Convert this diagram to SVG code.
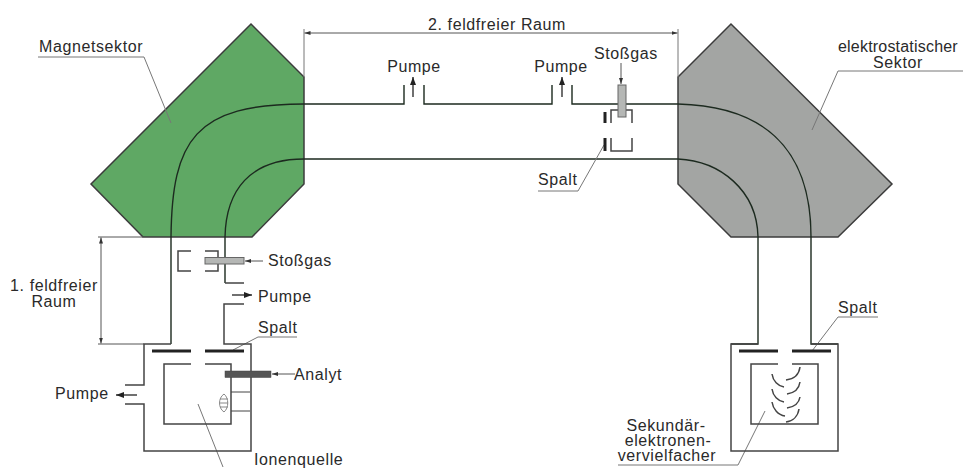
<svg xmlns="http://www.w3.org/2000/svg" width="963" height="468" viewBox="0 0 963 468">
<defs>
<marker id="ah" markerUnits="userSpaceOnUse" markerWidth="9" markerHeight="7" refX="8" refY="3.5" orient="auto"><path d="M0,0.5 L8,3.5 L0,6.5 Z" fill="#222"/></marker>
<marker id="ahs" markerUnits="userSpaceOnUse" markerWidth="7" markerHeight="5" refX="6" refY="2.5" orient="auto-start-reverse"><path d="M0,0.5 L6,2.5 L0,4.5 Z" fill="#333"/></marker>
</defs>
<style>
text{font-family:"Liberation Sans",Arial,sans-serif;font-size:16px;letter-spacing:.6px;fill:#2a2a2a}
.w{fill:none;stroke:#444;stroke-width:1.5}
.b{fill:none;stroke:#1c2a1f;stroke-width:1.4}
.s{fill:none;stroke:#222;stroke-width:3}
.l{fill:none;stroke:#777;stroke-width:1}
.d{fill:none;stroke:#555;stroke-width:1}
.a{fill:none;stroke:#222;stroke-width:1.3;marker-end:url(#ah)}
.t{fill:none;stroke:#555;stroke-width:1;marker-end:url(#ahs)}
.sec{stroke:#3c3c3c;stroke-width:1.5}
.tube{fill:#b5b7b5;stroke:#666;stroke-width:1}
</style>
<rect width="963" height="468" fill="#fff"/>
<g id="magnetsektor"><polygon class="sec" fill="#5fa864" points="251,24 304,77 304,184 252,237 143,237 91,184"/></g>
<g id="elektrostatischer-sektor"><polygon class="sec" fill="#a3a5a3" points="731,24 678,77 678,184 731,237 838,237 892,184"/></g>
<g id="connectors">
<path class="b" d="M171,344 V237 C172,140 195,104 304,104 H404 V85"/>
<path class="b" d="M424,85 V104 H552 V85"/>
<path class="b" d="M572,85 V104 H678 C760,106 811,145 811,237 V344 H838"/>
<path class="b" d="M225,283 V237 C226,190 250,159 304,159 H678 C720,161 757,190 758,237 V344 H731"/>
<path class="d" d="M98,237 H143 M98,344 H144"/>
<path class="d" d="M101,237.500 V343.500" marker-start="url(#ahs)" marker-end="url(#ahs)"/>
<path class="l" d="M304,77 V29 M678,77 V29"/>
<path class="d" d="M304.500,33 H677.500" marker-start="url(#ahs)" marker-end="url(#ahs)"/>
<path class="a" d="M413,97 V77"/><path class="a" d="M562,97 V77"/>
<path class="t" d="M621,63 V84"/>
<path class="t" d="M263,261 H245"/><path class="a" d="M232,295 H252"/>
<path class="t" d="M295,374 H272"/><path class="a" d="M137,395 H116"/>
<path class="l" d="M38,57 H144 L171,123"/>
<path class="l" d="M963,71 H838 L812,130"/>
<path class="l" d="M297,337 H258 L233,350"/>
<path class="l" d="M538,191 H578 L604,145"/>
<path class="l" d="M878,317 H838 L812,351"/>
<path class="l" d="M618,465 H738 L765,411"/>
<path class="l" d="M198,404 L223,467"/>
</g>
<g id="ionenquelle">
<path class="w" d="M171,344 H144 V385 H125 M125,404 H144 V451 H251 V344 H224 V304 H244 M225,283 H244"/>
<path class="s" d="M152,351 H191 M205,351 H244"/>
<path class="w" d="M191,364 H164 V424 H231 V364 H205"/>
<path class="w" style="stroke-width:1" d="M231,392 H250 M231,411 H250"/>
<path d="M224,394 C218,398 218,408 224,412 C229,408 229,398 224,394 Z M220,399 H228 M220,403 H228 M220,407 H228" fill="none" stroke="#888" stroke-width="1"/>
<rect x="225" y="371" width="46" height="6.500" fill="#555" stroke="#444" stroke-width="0.500"/>
</g>
<g id="stossgas-1">
<path class="w" d="M191,251 H178 V271 H191 M205,251 H218 V271 H205"/>
<rect class="tube" x="205" y="257.500" width="39" height="6.500"/>
</g>
<g id="stossgas-2">
<path class="w" d="M611,123 V110 H632 V123 M611,138 V151 H632 V138"/>
<rect class="tube" x="618" y="85" width="8" height="32"/>
<path class="s" d="M605,112 V123 M605,138 V151"/>
</g>
<g id="detektor">
<path class="w" d="M758,344 H731 V451 H838 V344 H811"/>
<path class="s" d="M739,351 H778 M792,351 H831"/>
<path class="w" d="M778,364 H751 V424 H818 V364 H792"/>
<path class="w" d="M772,374 C773,381 778,386 784,387 M772,389 C773,396 778,401 784,402 M772,402 C773,409 778,415 785,416 M800,367 C799,375 794,379 786,380 M800,382 C799,389 794,393 787,394 M800,397 C799,403 794,407 787,408 M799,409 C798,416 793,421 786,422"/>
</g>
<g id="labels">
<text x="39" y="52">Magnetsektor</text>
<text x="428" y="30">2. feldfreier Raum</text>
<text x="838" y="52" style="letter-spacing:.2px">elektrostatischer</text>
<text x="898" y="68" text-anchor="middle">Sektor</text>
<text x="414" y="72" text-anchor="middle">Pumpe</text>
<text x="561" y="72" text-anchor="middle">Pumpe</text>
<text x="594" y="59">Stoßgas</text>
<text x="538" y="185">Spalt</text>
<text x="54" y="291" text-anchor="middle">1. feldfreier</text>
<text x="54" y="307" text-anchor="middle">Raum</text>
<text x="268" y="266">Stoßgas</text>
<text x="258" y="302">Pumpe</text>
<text x="258" y="333">Spalt</text>
<text x="294" y="380">Analyt</text>
<text x="55" y="399">Pumpe</text>
<text x="254" y="465">Ionenquelle</text>
<text x="838" y="313">Spalt</text>
<text x="666" y="431" text-anchor="middle">Sekundär-</text>
<text x="668" y="446" text-anchor="middle">elektronen-</text>
<text x="667" y="461" text-anchor="middle">vervielfacher</text>
</g>
</svg>
